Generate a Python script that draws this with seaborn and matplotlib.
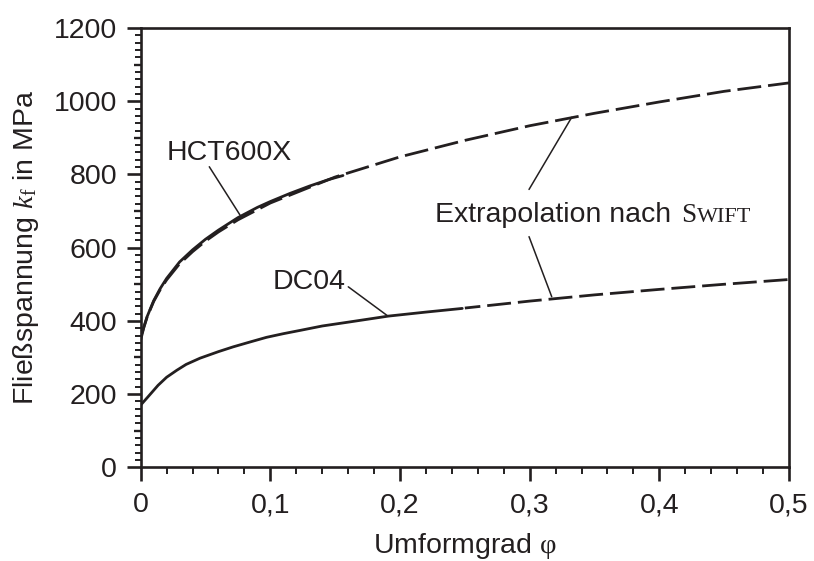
import matplotlib
matplotlib.use("Agg")
import numpy as np
import pandas as pd
import seaborn as sns
import matplotlib.pyplot as plt
import matplotlib.transforms as mtransforms
from matplotlib.ticker import FixedLocator

# ---------------- data ----------------
phi_hct_meas = [0.0, 0.0025, 0.005, 0.01, 0.015, 0.02, 0.03, 0.04, 0.05, 0.06,
                0.075, 0.09, 0.1, 0.115, 0.13, 0.145, 0.156]
kf_hct_meas = [355, 384, 412, 455, 488, 516, 561, 594, 623, 648,
               682, 710, 726, 748, 768, 786, 797]

phi_hct_swift = [0.0, 0.0025, 0.005, 0.01, 0.015, 0.02, 0.03, 0.04, 0.05, 0.06,
                 0.075, 0.1, 0.15, 0.2, 0.25, 0.3, 0.35, 0.4, 0.45, 0.5]
kf_hct_swift = [348, 383, 411, 453, 485, 512, 556, 589, 618, 643,
                676, 722, 793, 848, 893, 933, 967, 998, 1027, 1050]

phi_dc_meas = [0.0, 0.005, 0.0134, 0.02, 0.0278, 0.035, 0.0457, 0.06, 0.0713,
               0.085, 0.097, 0.11, 0.123, 0.14, 0.161, 0.191, 0.22, 0.248]
kf_dc_meas = [170, 190, 224, 246, 265, 281, 298, 316, 329,
              343, 355, 365, 374, 386, 397, 413, 424, 434]

phi_dc_swift = [0.25, 0.3, 0.35, 0.4, 0.45, 0.5]
kf_dc_swift = [435, 454, 471, 486, 500, 513]

x_ticks = [0, 0.1, 0.2, 0.3, 0.4, 0.5]
x_tick_labels = ["0", "0,1", "0,2", "0,3", "0,4", "0,5"]
y_ticks = [0, 200, 400, 600, 800, 1000, 1200]
y_tick_labels = ["0", "200", "400", "600", "800", "1000", "1200"]

# ---------------- style ----------------
sns.set_style("ticks")
plt.rcParams["font.family"] = ["Liberation Sans", "DejaVu Sans"]
plt.rcParams["mathtext.fontset"] = "custom"
plt.rcParams["mathtext.rm"] = "Liberation Serif"
plt.rcParams["mathtext.it"] = "Liberation Serif:italic"
plt.rcParams["mathtext.bf"] = "Liberation Serif:bold"
INK = "#231f20"
FS = 20.5

fig = plt.figure(figsize=(8.14, 5.61), dpi=100)
W, H = 814, 561
L, R, T, B = 140.7, 789.0, 28.0, 467.3
ax = fig.add_axes([L / W, 1 - B / H, (R - L) / W, (B - T) / H])
ax.set_facecolor("white")

LW = 2.0
dash = (0, (8.6, 2.5))

sns.lineplot(x=phi_hct_meas, y=kf_hct_meas, ax=ax, color=INK, lw=LW,
             estimator=None, sort=False)
sns.lineplot(x=phi_hct_swift, y=kf_hct_swift, ax=ax, color=INK, lw=LW,
             estimator=None, sort=False, linestyle=dash)
sns.lineplot(x=phi_dc_meas, y=kf_dc_meas, ax=ax, color=INK, lw=LW,
             estimator=None, sort=False)
sns.lineplot(x=phi_dc_swift, y=kf_dc_swift, ax=ax, color=INK, lw=LW,
             estimator=None, sort=False, linestyle=(3, (8.6, 2.5)))

ax.set_xlim(0, 0.5)
ax.set_ylim(0, 1200)

# ticks
ax.set_xticks(x_ticks, labels=x_tick_labels)
ax.set_yticks(y_ticks, labels=y_tick_labels)
ax.xaxis.set_minor_locator(FixedLocator(np.arange(0, 0.5001, 0.02)))
ax.yaxis.set_minor_locator(FixedLocator(np.arange(0, 1200.1, 20)))
ax.tick_params(axis="both", which="major", direction="out", length=10,
               width=1.9, color=INK, labelsize=FS, labelcolor=INK)
ax.tick_params(axis="x", which="major", pad=8)
ax.tick_params(axis="y", which="major", pad=7)
ax.tick_params(axis="x", which="minor", direction="out", length=5,
               width=1.4, color=INK)
ax.tick_params(axis="y", which="minor", direction="out", length=4.5,
               width=1.4, color=INK)
ax.tick_params(top=False, right=False)

# medium y ticks at odd hundreds
trans = mtransforms.blended_transform_factory(ax.transAxes, ax.transData)
for v in [100, 300, 500, 700, 900, 1100]:
    ax.plot([-10 / (R - L) * 0.72, 0], [v, v], transform=trans, color=INK,
            lw=1.7, clip_on=False, solid_capstyle="butt")

for s in ax.spines.values():
    s.set_visible(True)
    s.set_linewidth(1.9)
    s.set_color(INK)

ax.set_xlabel(r"Umformgrad $\mathrm{φ}$", fontsize=FS, color=INK, labelpad=9)
ax.set_ylabel(r"Fließspannung $k_{\mathrm{f}}$ in MPa", fontsize=FS,
              color=INK, labelpad=9)

# ---------------- annotations ----------------
def leader(p0, p1):
    ax.annotate("", xy=p1, xytext=p0,
                arrowprops=dict(arrowstyle="-", lw=1.1, color=INK,
                                shrinkA=0, shrinkB=0))

ax.text(0.0680, 859, "HCT600X", fontsize=FS, color=INK,
        ha="center", va="center")
leader((0.0529, 821), (0.0766, 689))

ax.text(0.1297, 507, "DC04", fontsize=FS, color=INK,
        ha="center", va="center")
leader((0.1601, 493), (0.1907, 413))

ax.text(0.2271, 671, "Extrapolation nach", fontsize=FS, color=INK,
        ha="left", va="baseline")
ax.text(0.4170, 671, "S", fontsize=19.5, color=INK, ha="left",
        va="baseline", family="Liberation Serif")
ax.text(0.4290, 671, "WIFT", fontsize=16, color=INK, ha="left",
        va="baseline", family="Liberation Serif")
leader((0.2995, 759), (0.3324, 956))
leader((0.2995, 630), (0.3170, 466))

fig.savefig("out.png", dpi=100, facecolor="white")
